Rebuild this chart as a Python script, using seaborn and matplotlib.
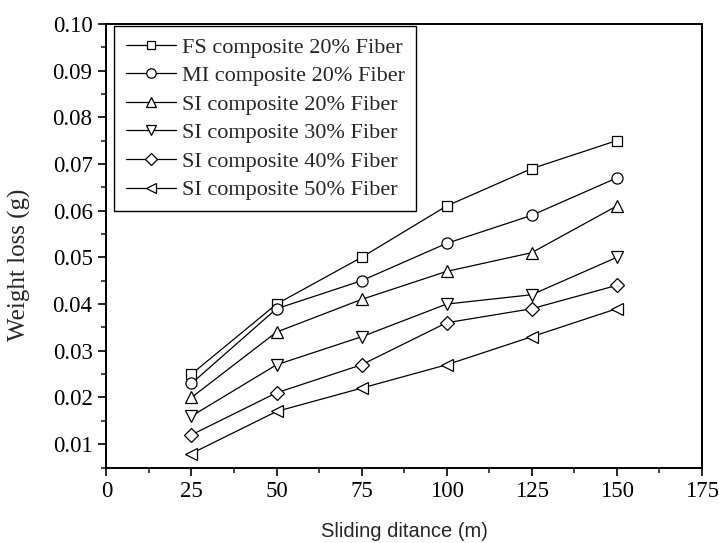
import matplotlib
matplotlib.use("Agg")
import matplotlib.pyplot as plt
import seaborn as sns
import pandas as pd
from matplotlib.ticker import MultipleLocator

sns.set_style("ticks")
plt.rcParams['font.family'] = ['Liberation Serif', 'DejaVu Serif']
plt.rcParams['mathtext.fontset'] = 'stix'

distance = [25, 50, 75, 100, 125, 150]
series_names = [
    "FS composite 20% Fiber",
    "MI composite 20% Fiber",
    "SI composite 20% Fiber",
    "SI composite 30% Fiber",
    "SI composite 40% Fiber",
    "SI composite 50% Fiber",
]
fs20 = [0.025, 0.040, 0.050, 0.061, 0.069, 0.075]
mi20 = [0.023, 0.039, 0.045, 0.053, 0.059, 0.067]
si20 = [0.020, 0.034, 0.041, 0.047, 0.051, 0.061]
si30 = [0.016, 0.027, 0.033, 0.040, 0.042, 0.050]
si40 = [0.012, 0.021, 0.027, 0.036, 0.039, 0.044]
si50 = [0.008, 0.017, 0.022, 0.027, 0.033, 0.039]
values = [fs20, mi20, si20, si30, si40, si50]
marker_list = ['s', 'o', '^', 'v', 'D', '<']
y_ticks = [0.01, 0.02, 0.03, 0.04, 0.05, 0.06, 0.07, 0.08, 0.09, 0.10]
y_tick_labels = ["0.01", "0.02", "0.03", "0.04", "0.05", "0.06", "0.07", "0.08", "0.09", "0.10"]

rows = []
for name, vals in zip(series_names, values):
    for d, v in zip(distance, vals):
        rows.append({"Distance": d, "Weight loss": v, "Series": name})
df = pd.DataFrame(rows)

fig = plt.figure(figsize=(7.19, 5.43), dpi=100)
ax = fig.add_axes([0.148, 0.139, 0.828, 0.817])

sns.lineplot(data=df, x="Distance", y="Weight loss", hue="Series", style="Series",
             hue_order=series_names, style_order=series_names,
             palette=['black'] * 6, markers=dict(zip(series_names, marker_list)),
             dashes=False, linewidth=0.9, markersize=8, markerfacecolor='white',
             markeredgecolor='black', markeredgewidth=0.9, ax=ax, legend='full')

for line in ax.lines:
    if line.get_marker() in ('D', 's'):
        line.set_markersize(7)

ax.set_xlim(0, 175)
ax.set_ylim(0.005, 0.10)
ax.xaxis.set_major_locator(MultipleLocator(25))
ax.xaxis.set_minor_locator(MultipleLocator(12.5))
ax.yaxis.set_minor_locator(MultipleLocator(0.005))
ax.set_yticks(y_ticks)
ax.set_yticklabels(y_tick_labels)

ax.tick_params(axis='both', which='major', direction='out', length=6, width=1.2,
               labelsize=16.5, colors='black', top=False, right=False, pad=4)
ax.tick_params(axis='both', which='minor', direction='out', length=3.5, width=1.2,
               top=False, right=False)
for sp in ax.spines.values():
    sp.set_visible(True)
    sp.set_linewidth(1.4)
    sp.set_color('black')

ax.set_xlabel("Sliding ditance (m)", fontsize=14.5, family=['Liberation Sans', 'DejaVu Sans'],
              labelpad=14)
ax.set_ylabel("Weight loss (g)", fontsize=18)
ax.yaxis.set_label_coords(-0.127, 0.457)

handles, labels = ax.get_legend_handles_labels()
for h in handles:
    h.set_markerfacecolor('white')
    h.set_markeredgecolor('black')
    h.set_linewidth(0.9)
leg = ax.legend(handles, labels, loc='upper left', bbox_to_anchor=(0.0134, 0.9955),
                borderaxespad=0, fontsize=16, frameon=True, fancybox=False,
                edgecolor='black', framealpha=1, handlelength=2.25, handletextpad=0.3,
                labelspacing=0.36, borderpad=0.5, markerscale=0.85)
leg.get_frame().set_linewidth(1.0)

fig.savefig("out.png", dpi=100)
